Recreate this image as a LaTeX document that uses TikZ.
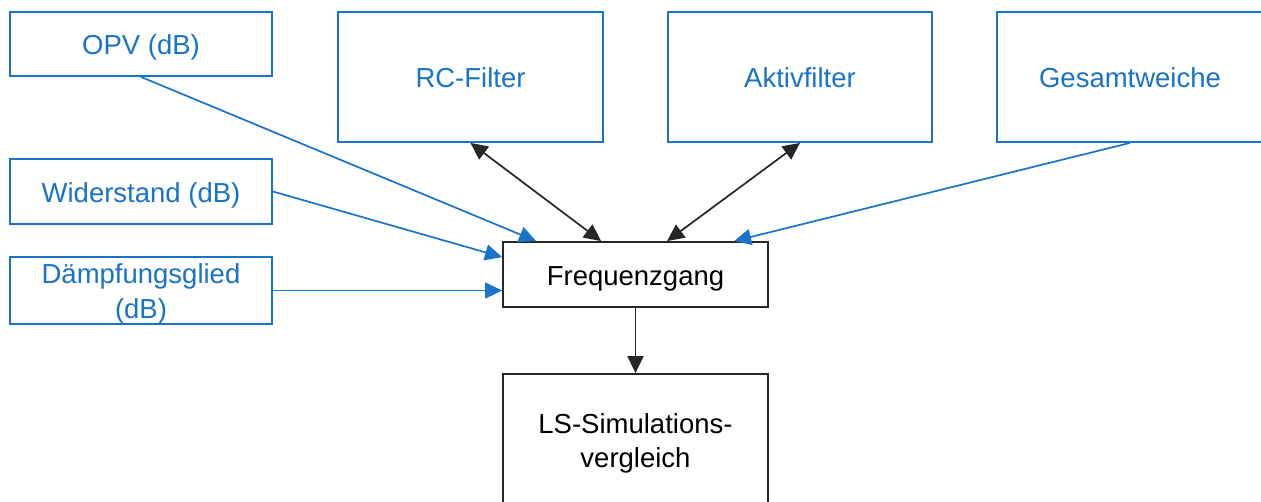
\documentclass[tikz,border=0pt]{standalone}
\usepackage{fontspec}
\setmainfont{Liberation Sans}
\usetikzlibrary{arrows.meta,calc}
\definecolor{myblue}{RGB}{25,115,200}
\newcommand{\tstrut}{\rule[-6pt]{0pt}{33pt}}
\newcommand{\topstrut}{\rule{0pt}{27pt}}
\newcommand{\botstrut}{\rule[-6pt]{0pt}{6pt}}
\begin{document}
\begin{tikzpicture}[x=1pt,y=-1pt,
  boxbase/.style={rectangle,inner sep=0pt,align=center,line width=1.8pt,
    font=\fontsize{27.5}{34.5}\selectfont},
  bluebox/.style={boxbase,draw=myblue,text=myblue},
  blackbox/.style={boxbase,draw=black!85,text=black},
  tip/.tip={Triangle[length=17pt,width=16pt]},
  bluearrow/.style={draw=myblue,line width=1.7pt,-tip},
  blackarrow/.style={draw=black!85,line width=1.7pt,-tip},
  dblarrow/.style={draw=black!85,line width=1.7pt,tip-tip}
]
\useasboundingbox (0,0) rectangle (1261,501);
\fill[white] (0,0) rectangle (1261,501);
\clip (0,0) rectangle (1261,501);

\node[bluebox,minimum width=262pt,minimum height=64pt] (opv) at (141,44) {\tstrut OPV (dB)};
\node[bluebox,minimum width=262pt,minimum height=65pt] (wid) at (141,191.5) {\tstrut Widerstand (dB)};
\node[bluebox,minimum width=262pt,minimum height=65pt] (dmp) at (141,290.5) {\topstrut Dämpfungsglied\\(dB)\botstrut};
\node[bluebox,minimum width=265pt,minimum height=130pt] (rc) at (470.5,77) {\tstrut RC-Filter};
\node[bluebox,minimum width=264pt,minimum height=130pt] (akt) at (800,77) {\tstrut Aktivfilter};
\node[bluebox,minimum width=266pt,minimum height=130pt] (ges) at (1130,77) {\tstrut Gesamtweiche};
\node[blackbox,minimum width=265pt,minimum height=65pt] (fg) at (635.5,274.5) {\tstrut Frequenzgang};
\node[blackbox,minimum width=265pt,minimum height=132pt] (ls) at (635.5,440) {\topstrut LS-Simulations-\\vergleich\botstrut};

\draw[bluearrow] (opv.south) -- ($(fg.north west)+(34,0)$);
\draw[bluearrow] (wid.east) -- ($(fg.north west)+(0,16)$);
\draw[bluearrow] (dmp.east) -- (dmp.east -| fg.west);
\draw[dblarrow] (rc.south) -- ($(fg.north west)+(99,0)$);
\draw[dblarrow] (akt.south) -- ($(fg.north west)+(165,0)$);
\draw[bluearrow] (ges.south) -- ($(fg.north west)+(232,0)$);
\draw[blackarrow] (fg.south) -- (ls.north);
\end{tikzpicture}
\end{document}
